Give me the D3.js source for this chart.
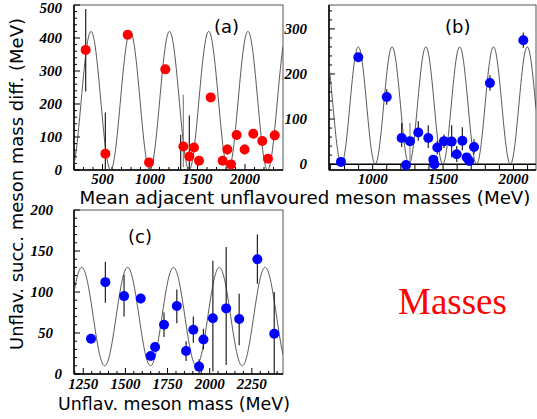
<!DOCTYPE html>
<html>
<head>
<meta charset="utf-8">
<script src="https://cdn.jsdelivr.net/npm/d3@7"></script>
<style>
	body { margin: 0; background: #fff; }
	svg { display: block; }
	.tick { font-family: "Liberation Serif", "Times New Roman", "DejaVu Serif", serif; font-weight: bold; font-style: italic; font-size: 15px; }
	.title { font-family: "DejaVu Sans", sans-serif; font-size: 17px; }
	.big { font-family: "Liberation Serif", "Times New Roman", "DejaVu Serif", serif; font-size: 37px; }
</style>
</head>
<body>
<div id="container"></div>
<script>
// panel (a): mean adjacent masses vs. mass difference
var aMass = [323, 530, 765, 990, 1161, 1351, 1414, 1463, 1516, 1639, 1765, 1814, 1853, 1912, 1996, 2087, 2182, 2242, 2313];
var aDiff = [364, 49, 410, 23, 305, 71, 41, 68, 28, 220, 28, 62, 17, 106, 62, 110, 88, 34, 105];
var aLo   = [238, 0, 404, 13, 297, 9, 0, 56, 28, 220, 23, 47, 9, 91, 47, 100, 78, 22, 90];
var aHi   = [488, 174, 416, 33, 313, 228, 165, 80, 28, 220, 33, 77, 25, 121, 77, 120, 98, 46, 120];
var aGray = [1351];
var aBarMass = [1323], aBarLo = [0], aBarHi = [107];

// panel (b)
var bMass = [775, 898, 1100, 1206, 1237, 1265, 1324, 1395, 1431, 1438, 1459, 1507, 1561, 1597, 1637, 1668, 1686, 1720, 1833, 2070];
var bDiff = [5, 237, 149, 58, -2, 51, 70, 58, 10, 0, 37, 51, 50, 22, 52, 15, 7, 38, 180, 275];
var bLo   = [0, 231, 132, 38, -4, 0, 52, 36, 0, -3, 22, 36, 15, 5, 31, 7, 0, 22, 163, 258];
var bHi   = [10, 243, 166, 91, 2, 91, 95, 86, 20, 4, 52, 66, 86, 40, 82, 23, 20, 55, 197, 292];
var bGray = [1265];

// panel (c): mass vs. mass difference
var cMass = [1296, 1381, 1492, 1591, 1650, 1676, 1729, 1805, 1860, 1903, 1937, 1963, 2019, 2098, 2175, 2283, 2383];
var cDiff = [43, 112, 95, 92, 22, 33, 60, 83, 28, 54, 9, 42, 68, 80, 67, 140, 49];
var cLo   = [41, 87, 70, 86, 18, 28, 45, 62, 16, 38, 0, 30, 3, 11, 35, 110, 0];
var cHi   = [46, 137, 121, 97, 26, 38, 75, 103, 40, 70, 18, 55, 138, 155, 98, 170, 100];

// cosine fits: [mean, amplitude, first peak, period]
var aFit = [210, 210, 379, 413];
var bFit = [130, 130, 898, 240];
var cFit = [70, 60, 1241, 272];

var aXTicks = [500, 1000, 1500, 2000], aYTicks = [0, 100, 200, 300, 400, 500];
var bXTicks = [1000, 1500, 2000], bYTicks = [0, 100, 200, 300];
var cXTicks = [1250, 1500, 1750, 2000, 2250], cYTicks = [0, 50, 100, 150, 200];

var W = 537, H = 419;
var svg = d3.select('#container').append('svg')
	.attr('width', W)
	.attr('height', H);

function drawPanel(o) {
	var x = d3.scaleLinear().domain(o.xDomain).range([o.left, o.right]);
	var y = d3.scaleLinear().domain(o.yDomain).range([o.bottom, o.top]);
	var g = svg.append('g');
	var axisY = o.yDomain[0] < 0 ? y(0) : o.bottom;

	g.append('clipPath').attr('id', 'clip' + o.id)
		.append('rect')
		.attr('x', o.left).attr('y', o.top)
		.attr('width', o.right - o.left).attr('height', o.bottom - o.top);

	// frame
	g.append('rect')
		.attr('x', o.left).attr('y', o.top)
		.attr('width', o.right - o.left).attr('height', o.bottom - o.top)
		.attr('fill', 'none').attr('stroke', '#555').attr('stroke-width', 1);

	// y axis ticks
	var yMinor = d3.range(o.yDomain[0] < 0 ? 0 : o.yDomain[0], o.yDomain[1] + 0.1, o.yMinor);
	g.selectAll('.ymin').data(yMinor).enter().append('line')
		.attr('x1', o.left).attr('x2', function(d){ return o.left + (o.yTicks.indexOf(d) >= 0 ? 6 : 3); })
		.attr('y1', function(d){ return y(d); }).attr('y2', function(d){ return y(d); })
		.attr('stroke', '#000').attr('stroke-width', 1);
	g.selectAll('.ylab').data(o.yTicks).enter().append('text')
		.attr('class', 'tick')
		.attr('x', function(d){ return d == 0 && o.zeroLabelX ? o.zeroLabelX : o.yLabelX; })
		.attr('y', function(d){ return Math.max(y(d), 8); })
		.attr('dy', '0.35em')
		.attr('text-anchor', 'end')
		.text(function(d){ return d; });

	// x axis ticks
	var xMinor = d3.range(o.xStart, o.xDomain[1], o.xMinor);
	g.selectAll('.xmin').data(xMinor).enter().append('line')
		.attr('x1', function(d){ return x(d); }).attr('x2', function(d){ return x(d); })
		.attr('y1', axisY)
		.attr('y2', function(d){
			if (axisY < o.bottom) return o.bottom;
			return axisY - (o.xTicks.indexOf(d) >= 0 ? 6 : 3);
		})
		.attr('stroke', '#000').attr('stroke-width', 1);
	g.selectAll('.xlab').data(o.xTicks).enter().append('text')
		.attr('class', 'tick')
		.attr('x', function(d){ return x(d); })
		.attr('y', o.xLabelY)
		.attr('text-anchor', 'middle')
		.text(function(d){ return d; });

	// axis lines
	g.append('line').attr('x1', o.left).attr('x2', o.left).attr('y1', o.top).attr('y2', o.bottom)
		.attr('stroke', '#000').attr('stroke-width', 1.5);
	g.append('line').attr('x1', o.left).attr('x2', o.right).attr('y1', axisY).attr('y2', axisY)
		.attr('stroke', '#000').attr('stroke-width', 1.5);
	if (axisY < o.bottom) {
		g.append('line').attr('x1', o.left).attr('x2', o.right).attr('y1', o.bottom).attr('y2', o.bottom)
			.attr('stroke', '#000').attr('stroke-width', 1.5);
	}

	// fitted curve
	var f = o.fit;
	var pts = d3.range(0, 401).map(function(i){
		var m = o.xDomain[0] + (o.xDomain[1] - o.xDomain[0]) * i / 400;
		return [m, f[0] + f[1] * Math.cos(2 * Math.PI * (m - f[2]) / f[3])];
	});
	g.append('path')
		.attr('clip-path', 'url(#clip' + o.id + ')')
		.attr('d', d3.line().x(function(d){ return x(d[0]); }).y(function(d){ return y(d[1]); })(pts))
		.attr('fill', 'none').attr('stroke', '#444').attr('stroke-width', 0.9);

	// error bars
	var bars = o.mass.map(function(m, i){ return [m, o.lo[i], o.hi[i]]; });
	if (o.barMass) o.barMass.forEach(function(m, i){ bars.push([m, o.barLo[i], o.barHi[i]]); });
	g.selectAll('.err').data(bars).enter().append('line')
		.attr('clip-path', 'url(#clip' + o.id + ')')
		.attr('x1', function(d){ return x(d[0]); }).attr('x2', function(d){ return x(d[0]); })
		.attr('y1', function(d){ return y(d[1]); }).attr('y2', function(d){ return y(d[2]); })
		.attr('stroke', function(d){ return o.gray.indexOf(d[0]) >= 0 ? '#888' : '#222'; })
		.attr('stroke-width', 1.2);

	// points
	g.selectAll('.pt').data(o.mass).enter().append('circle')
		.attr('cx', function(d){ return x(d); })
		.attr('cy', function(d, i){ return y(o.val[i]); })
		.attr('r', 5)
		.attr('fill', o.color);

	g.append('text')
		.attr('class', 'title')
		.attr('x', o.tag[0]).attr('y', o.tag[1])
		.style('font-size', '18px')
		.text(o.tag[2]);
}

drawPanel({
	id: 'a', left: 74, right: 283, top: 5, bottom: 170,
	xDomain: [200, 2400], yDomain: [0, 500], xStart: 200,
	xMinor: 100, yMinor: 20, xTicks: aXTicks, yTicks: aYTicks,
	yLabelX: 62, xLabelY: 184,
	fit: aFit, mass: aMass, val: aDiff, lo: aLo, hi: aHi, gray: aGray,
	barMass: aBarMass, barLo: aBarLo, barHi: aBarHi,
	color: '#ff0000', tag: [214, 33, '(a)']
});

drawPanel({
	id: 'b', left: 329, right: 536, top: 5, bottom: 170,
	xDomain: [690, 2160], yDomain: [-13, 353], xStart: 700,
	xMinor: 100, yMinor: 20, xTicks: bXTicks, yTicks: bYTicks,
	yLabelX: 307, xLabelY: 184,
	fit: bFit, mass: bMass, val: bDiff, lo: bLo, hi: bHi, gray: bGray,
	color: '#0000ff', tag: [445, 33, '(b)']
});

drawPanel({
	id: 'c', left: 74, right: 283, top: 210, bottom: 374,
	xDomain: [1195, 2435], yDomain: [0, 200], xStart: 1200,
	xMinor: 50, yMinor: 10, xTicks: cXTicks, yTicks: cYTicks,
	yLabelX: 53, zeroLabelX: 62, xLabelY: 389,
	fit: cFit, mass: cMass, val: cDiff, lo: cLo, hi: cHi, gray: [],
	color: '#0000ff', tag: [128, 243, '(c)']
});

// titles
svg.append('text')
	.attr('class', 'title')
	.attr('transform', 'translate(23,184) rotate(-90)')
	.attr('text-anchor', 'middle')
	.attr('textLength', 332).attr('lengthAdjust', 'spacingAndGlyphs')
	.text('Unflav. succ. meson mass diff. (MeV)');

svg.append('text')
	.attr('class', 'title')
	.attr('x', 305).attr('y', 204)
	.attr('text-anchor', 'middle')
	.attr('textLength', 451).attr('lengthAdjust', 'spacingAndGlyphs')
	.text('Mean adjacent unflavoured meson masses (MeV)');

svg.append('text')
	.attr('class', 'title')
	.attr('x', 174).attr('y', 410)
	.attr('text-anchor', 'middle')
	.attr('textLength', 232).attr('lengthAdjust', 'spacingAndGlyphs')
	.text('Unflav. meson mass (MeV)');

svg.append('text')
	.attr('class', 'big')
	.attr('x', 398).attr('y', 314)
	.attr('fill', '#ff0000')
	.text('Masses');
</script>
</body>
</html>
